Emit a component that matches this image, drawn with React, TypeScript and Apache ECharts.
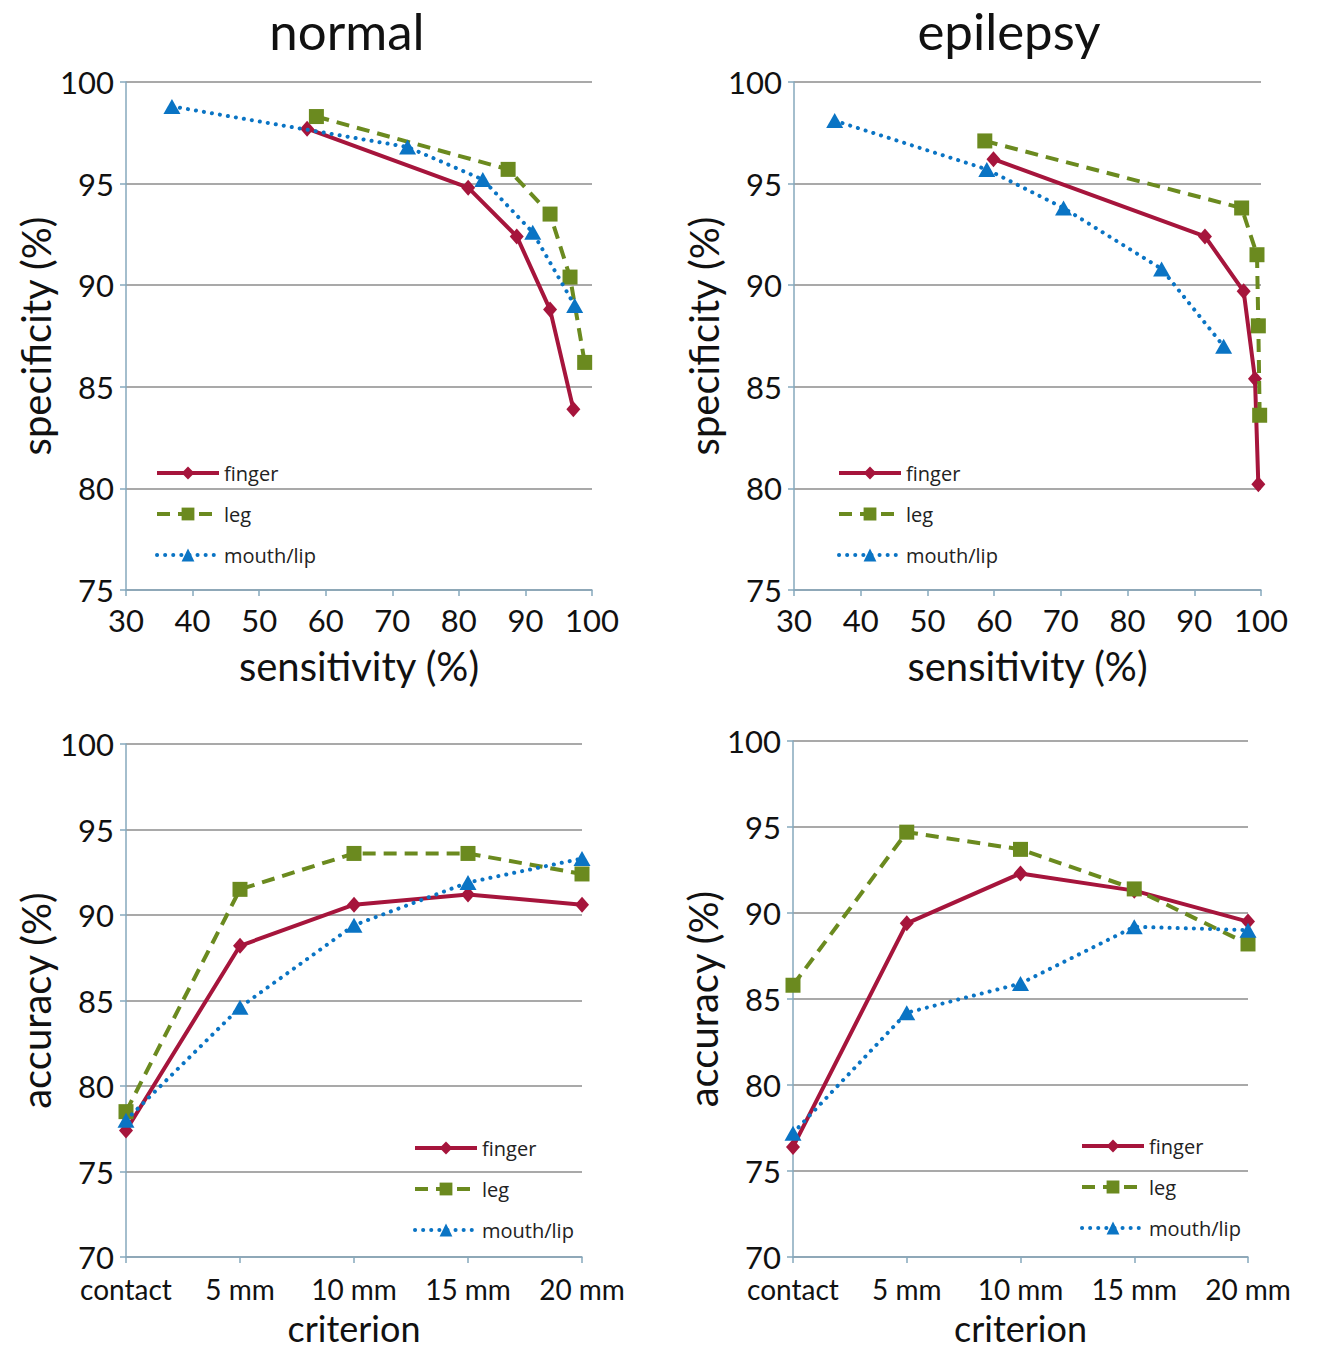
import React, { useEffect, useRef } from "react";
import * as echarts from "echarts";

// ---- data ----
const seriesNames = ["finger", "leg", "mouth/lip"];
const criteria = ["contact", "5 mm", "10 mm", "15 mm", "20 mm"];

// normal: sensitivity / specificity
const fingerNormalSens = [57.2, 81.4, 88.7, 93.7, 97.2];
const fingerNormalSpec = [97.7, 94.8, 92.4, 88.8, 83.9];
const legNormalSens = [58.6, 87.4, 93.7, 96.7, 98.9];
const legNormalSpec = [98.3, 95.7, 93.5, 90.4, 86.2];
const mouthNormalSens = [36.9, 72.3, 83.6, 91.1, 97.4];
const mouthNormalSpec = [98.8, 96.8, 95.2, 92.6, 89.0];

// epilepsy: sensitivity / specificity
const fingerEpiSens = [59.9, 91.6, 97.4, 99.1, 99.6];
const fingerEpiSpec = [96.2, 92.4, 89.7, 85.4, 80.2];
const legEpiSens = [58.6, 97.1, 99.4, 99.6, 99.8];
const legEpiSpec = [97.1, 93.8, 91.5, 88.0, 83.6];
const mouthEpiSens = [36.1, 58.9, 70.4, 85.1, 94.4];
const mouthEpiSpec = [98.1, 95.7, 93.8, 90.8, 87.0];

// accuracy by criterion
const fingerNormalAcc = [77.4, 88.2, 90.6, 91.2, 90.6];
const legNormalAcc = [78.5, 91.5, 93.6, 93.6, 92.4];
const mouthNormalAcc = [78.0, 84.6, 89.4, 91.9, 93.3];
const fingerEpiAcc = [76.4, 89.4, 92.3, 91.3, 89.5];
const legEpiAcc = [85.8, 94.7, 93.7, 91.4, 88.2];
const mouthEpiAcc = [77.2, 84.2, 85.9, 89.2, 89.0];

const titles = ["normal", "epilepsy"];

// ---- styles ----
const COLORS = ["#a6153c", "#6b8a1f", "#0a74c4"];
const SYMBOLS = ["diamond", "rect", "triangle"];
const SYMBOL_SIZES: any[] = [[14, 16], 15, [17, 15]];
const LINE_TYPES: any[] = ["solid", [13, 8], [0.1, 8]];
const LINE_CAPS: any[] = ["butt", "butt", "round"];
const FONT = "Lato, 'Open Sans', sans-serif";
const AXIS_COLOR = "#86a8bd";
const GRID_COLOR = "#8c8c8c";

function zip(a: number[], b: number[]) {
  return a.map((v, i) => [v, b[i]]);
}

function makeSeries(idx: number, gridIdx: number, data: any[]) {
  return {
    type: "line",
    name: seriesNames[idx],
    xAxisIndex: gridIdx,
    yAxisIndex: gridIdx,
    data,
    symbol: SYMBOLS[idx],
    symbolSize: SYMBOL_SIZES[idx],
    showAllSymbol: true,
    color: COLORS[idx],
    lineStyle: { color: COLORS[idx], width: 4, type: LINE_TYPES[idx], cap: LINE_CAPS[idx] },
    itemStyle: { color: COLORS[idx], borderWidth: 0 },
    z: 2 + idx,
  };
}

const tickLabel = { color: "#111", fontFamily: FONT, fontSize: 31 };
const nameStyle = { color: "#111", fontFamily: FONT, fontSize: 40 };

function yAxis(gridIndex: number, min: number, name: string) {
  return {
    type: "value",
    gridIndex,
    min,
    max: 100,
    interval: 5,
    name,
    nameLocation: "middle",
    nameGap: 70,
    nameTextStyle: nameStyle,
    axisLine: { show: true, lineStyle: { color: AXIS_COLOR, width: 1.5 } },
    axisTick: { show: true, length: 6, lineStyle: { color: AXIS_COLOR, width: 1.5 } },
    axisLabel: { ...tickLabel, lineHeight: 26, margin: 12 },
    splitLine: { show: true, lineStyle: { color: GRID_COLOR, width: 1.5 } },
  };
}

function xValueAxis(gridIndex: number) {
  return {
    type: "value",
    gridIndex,
    min: 30,
    max: 100,
    interval: 10,
    name: "sensitivity (%)",
    nameLocation: "middle",
    nameGap: 56,
    nameTextStyle: nameStyle,
    axisLine: { show: true, onZero: false, lineStyle: { color: AXIS_COLOR, width: 1.5 } },
    axisTick: { show: true, length: 6, lineStyle: { color: AXIS_COLOR, width: 1.5 } },
    axisLabel: { ...tickLabel, margin: 14 },
    splitLine: { show: false },
  };
}

function xCatAxis(gridIndex: number) {
  return {
    type: "category",
    gridIndex,
    data: criteria,
    boundaryGap: false,
    name: "criterion",
    nameLocation: "middle",
    nameGap: 53,
    nameTextStyle: { ...nameStyle, fontSize: 36 },
    axisLine: { show: true, onZero: false, lineStyle: { color: AXIS_COLOR, width: 1.5 } },
    axisTick: { show: true, length: 6, alignWithLabel: true, lineStyle: { color: AXIS_COLOR, width: 1.5 } },
    axisLabel: { ...tickLabel, fontSize: 28, lineHeight: 26, margin: 19, interval: 0 },
    splitLine: { show: false },
  };
}

function legend(left: number, top: number) {
  return {
    left,
    top,
    orient: "vertical",
    itemWidth: 62,
    itemHeight: 16,
    itemGap: 21,
    data: seriesNames,
    lineStyle: { width: 4 },
    textStyle: { color: "#222", fontFamily: "'Open Sans', sans-serif", fontSize: 20, lineHeight: 20 },
    selectedMode: false,
  };
}

export default function App() {
  const ref = useRef<HTMLDivElement>(null);
  useEffect(() => {
    document.body.style.margin = "0";
    const chart = echarts.init(ref.current!, undefined, { renderer: "svg" });
    chart.setOption({
      animation: false,
      backgroundColor: "#ffffff",
      title: [
        { text: titles[0], left: 342, top: 0, textAlign: "center", textStyle: { fontFamily: FONT, fontSize: 51, fontWeight: "normal", color: "#111" } },
        { text: titles[1], left: 1004, top: 0, textAlign: "center", textStyle: { fontFamily: FONT, fontSize: 51, fontWeight: "normal", color: "#111" } },
      ],
      grid: [
        { left: 126, top: 82, width: 466, height: 508 },
        { left: 794, top: 82, width: 467, height: 508 },
        { left: 126, top: 744, width: 456, height: 513 },
        { left: 793, top: 741, width: 455, height: 516 },
      ],
      xAxis: [xValueAxis(0), xValueAxis(1), xCatAxis(2), xCatAxis(3)],
      yAxis: [
        yAxis(0, 75, "specificity (%)"),
        yAxis(1, 75, "specificity (%)"),
        yAxis(2, 70, "accuracy (%)"),
        yAxis(3, 70, "accuracy (%)"),
      ],
      legend: [legend(150, 458), legend(832, 458), legend(408, 1133), legend(1075, 1131)],
      series: [
        makeSeries(0, 0, zip(fingerNormalSens, fingerNormalSpec)),
        makeSeries(1, 0, zip(legNormalSens, legNormalSpec)),
        makeSeries(2, 0, zip(mouthNormalSens, mouthNormalSpec)),
        makeSeries(0, 1, zip(fingerEpiSens, fingerEpiSpec)),
        makeSeries(1, 1, zip(legEpiSens, legEpiSpec)),
        makeSeries(2, 1, zip(mouthEpiSens, mouthEpiSpec)),
        makeSeries(0, 2, fingerNormalAcc),
        makeSeries(1, 2, legNormalAcc),
        makeSeries(2, 2, mouthNormalAcc),
        makeSeries(0, 3, fingerEpiAcc),
        makeSeries(1, 3, legEpiAcc),
        makeSeries(2, 3, mouthEpiAcc),
      ],
    });
    return () => chart.dispose();
  }, []);
  return (
    <div
      ref={ref}
      style={{ position: "absolute", left: 0, top: 0, width: 1326, height: 1351, background: "#fff" }}
    />
  );
}
